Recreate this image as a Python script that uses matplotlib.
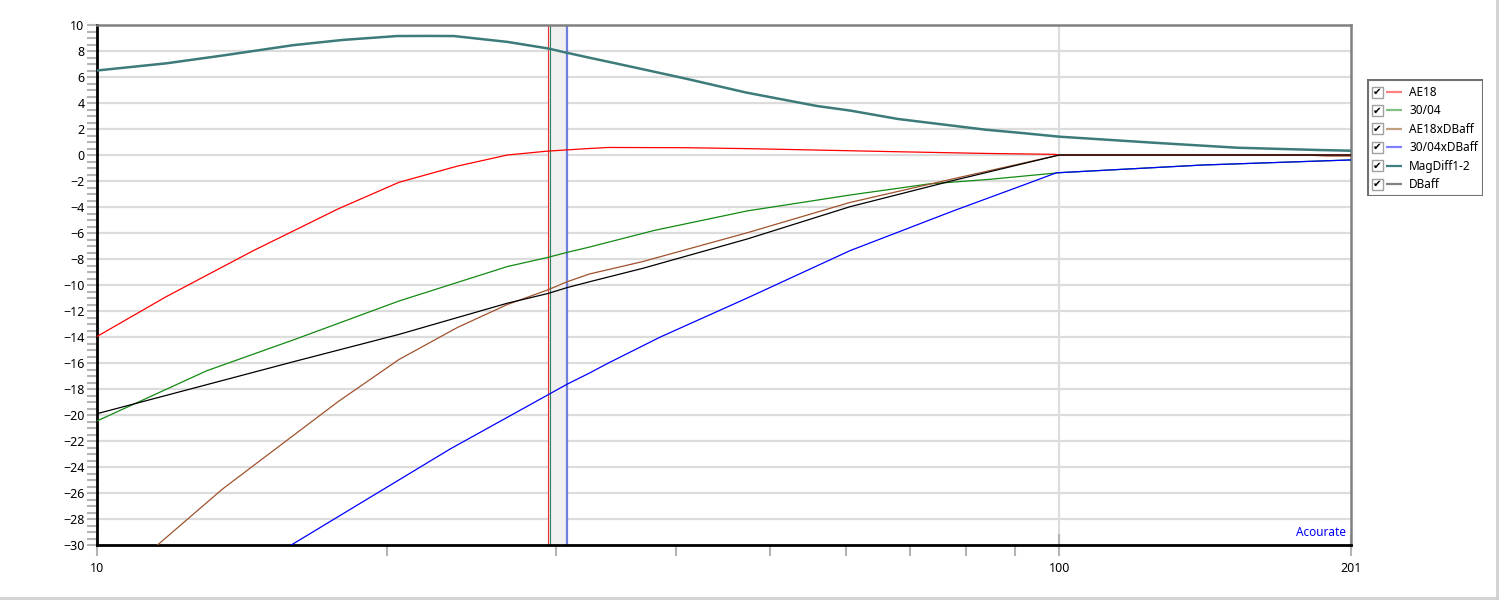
import matplotlib

matplotlib.use("Agg")

import matplotlib.pyplot as plt
import matplotlib.transforms as mtransforms
from matplotlib.lines import Line2D
from matplotlib.patches import Rectangle
from matplotlib.ticker import FixedFormatter, FixedLocator, NullFormatter

AE18_FREQ = [10, 11.8, 14.5, 17.8, 20.6, 23.7, 26.7, 29.4, 32.5, 34, 41, 47.4, 56, 68, 84, 99, 100, 201]
AE18_DB = [-13.96, -10.9, -7.4, -4.15, -2.1, -0.85, 0.0, 0.3, 0.5, 0.58, 0.56, 0.49, 0.38, 0.25, 0.12, 0.05, 0.0, 0.0]

P3004_FREQ = [10, 13, 16.1, 20.6, 26.7, 29.4, 30.8, 32.5, 37.9, 47.4, 60.6, 73.3, 84.4, 99.4, 100, 141, 201]
P3004_DB = [-20.46, -16.6, -14.15, -11.23, -8.58, -7.88, -7.49, -7.08, -5.81, -4.3, -3.08, -2.22, -1.88, -1.38, -1.36, -0.77, -0.38]

AE18XDB_FREQ = [10, 11.6, 13.5, 17.8, 20.6, 23.7, 26.7, 29.4, 30.8, 32.5, 36.9, 47.4, 60.6, 77.6, 100, 180, 190, 201]
AE18XDB_DB = [-34.1, -29.9, -25.7, -18.98, -15.73, -13.26, -11.5, -10.38, -9.75, -9.15, -8.2, -5.98, -3.65, -1.83, 0.0, 0.0, -0.08, -0.08]

P3004XDB_FREQ = [10, 16, 23.3, 29.4, 30.8, 32.5, 34, 38.5, 47.4, 60.6, 77.6, 91.5, 99.4, 100, 141, 201]
P3004XDB_DB = [-39.0, -29.9, -22.6, -18.46, -17.63, -16.77, -16.0, -14.0, -11.0, -7.36, -4.3, -2.35, -1.36, -1.36, -0.77, -0.38]

MAG_FREQ = [10, 11.8, 13.5, 16, 18, 20.5, 22, 23.5, 26.7, 29.4, 30.8, 32.5, 34, 36.9, 41, 47.3,
            56, 60.6, 68, 77.6, 84, 91.5, 100, 125, 153, 187, 201]
MAG_DB = [6.5, 7.05, 7.65, 8.45, 8.85, 9.15, 9.16, 9.15, 8.7, 8.2, 7.86, 7.48, 7.17, 6.6, 5.86, 4.8,
          3.77, 3.42, 2.77, 2.25, 1.94, 1.69, 1.41, 0.95, 0.56, 0.38, 0.33]

DBAFF_FREQ = [10, 16.1, 20.6, 23.7, 26.7, 29.4, 30.8, 32.5, 36.9, 47.4, 60.6, 77.6, 100, 201]
DBAFF_DB = [-19.9, -15.85, -13.8, -12.5, -11.4, -10.66, -10.2, -9.75, -8.72, -6.46, -3.98, -1.96, 0.0, 0.0]

CURSOR_A = 29.4
CURSOR_B = 30.8

LEGEND_LABELS = ["AE18", "30/04", "AE18xDBaff", "30/04xDBaff", "MagDiff1-2", "DBaff"]
LEGEND_COLORS = ["#ff8080", "#80c080", "#c0a080", "#8080ff", "#3f7f7f", "#808080"]

X_MAJOR = [10, 100, 201]
X_MINOR = [20, 30, 40, 50, 60, 70, 80, 90]

FONT = "Noto Sans"


def draw_legend(fig):
    lax = fig.add_axes([1367 / 1500, 1 - 196 / 600, 116 / 1500, 117 / 600])
    lax.set_xlim(0, 116)
    lax.set_ylim(117, 0)
    lax.axis("off")
    lax.add_patch(Rectangle((0.5, 0.5), 115, 116, fill=False, edgecolor="#707070", lw=1.5))

    for i, (label, color) in enumerate(zip(LEGEND_LABELS, LEGEND_COLORS)):
        yc = 13 + i * 18.4
        lax.add_patch(Rectangle((5, yc - 5.5), 11, 11, facecolor="white", edgecolor="#a0a0a0", lw=1))
        lax.text(10.5, yc, "\u2714", family=["DejaVu Sans"], fontsize=7.5,
                 ha="center", va="center", color="black")
        lax.plot([19, 35], [yc, yc], color=color, lw=1.6, solid_capstyle="butt")
        lax.text(42, yc + 0.5, label, family=FONT, fontsize=8.5, ha="left", va="center", color="black")


def plot_chart():
    fig = plt.figure(figsize=(15, 6), dpi=100)
    ax = fig.add_axes([97 / 1500, 1 - 545 / 600, 1254 / 1500, 520 / 600])

    ax.set_xscale("log")
    ax.set_xlim(10, 201)
    ax.set_ylim(-30, 10)

    # cursors
    ax.axvspan(CURSOR_A, CURSOR_B, color="#f0f0f0", lw=0, zorder=1)
    ax.axvline(CURSOR_A, color="#e83030", lw=0.8, zorder=2)
    shifted = mtransforms.offset_copy(ax.get_xaxis_transform(), fig=fig, x=2, y=0, units="dots")
    ax.plot([CURSOR_A, CURSOR_A], [0, 1], transform=shifted, color="#2e7d60", lw=0.8, zorder=2)
    ax.axvline(CURSOR_B, color="#6f7fe0", lw=1.6, zorder=2)

    ax.plot(MAG_FREQ, MAG_DB, color="#3d7b7b", lw=1.8, zorder=4)
    ax.plot(AE18_FREQ, AE18_DB, color="#ff0000", lw=0.9, zorder=4)
    ax.plot(P3004_FREQ, P3004_DB, color="#138a13", lw=0.9, zorder=4)
    ax.plot(P3004XDB_FREQ, P3004XDB_DB, color="#0000ff", lw=0.9, zorder=5)
    ax.plot(AE18XDB_FREQ, AE18XDB_DB, color="#a0522d", lw=0.9, zorder=4)
    ax.plot(DBAFF_FREQ, DBAFF_DB, color="#000000", lw=0.9, zorder=5)

    # grid
    for yv in range(-28, 10, 2):
        ax.axhline(yv, color="#dcdcdc", lw=1.6, zorder=0)
    ax.axvline(100, color="#dcdcdc", lw=1.6, zorder=0)

    ax.xaxis.set_major_locator(FixedLocator(X_MAJOR))
    ax.xaxis.set_minor_locator(FixedLocator(X_MINOR))
    ax.xaxis.set_major_formatter(FixedFormatter([str(v) for v in X_MAJOR]))
    ax.xaxis.set_minor_formatter(NullFormatter())
    ax.tick_params(axis="x", which="major", direction="inout", length=16, width=1.5,
                   color="#b4b4b4", labelsize=9, pad=4)
    ax.tick_params(axis="x", which="minor", direction="out", length=8, width=1.5, color="#b4b4b4")

    ax.yaxis.set_major_locator(FixedLocator(list(range(-30, 11, 2))))
    ax.yaxis.set_minor_locator(FixedLocator([v / 2 for v in range(-60, 21)]))
    ax.tick_params(axis="y", which="both", direction="out", length=7, width=1.5,
                   color="#b4b4b4", labelsize=9, pad=2)
    for lbl in ax.get_xticklabels() + ax.get_yticklabels():
        lbl.set_family(FONT)

    ax.spines["left"].set_color("black")
    ax.spines["left"].set_linewidth(2)
    ax.spines["bottom"].set_color("black")
    ax.spines["bottom"].set_linewidth(2)
    ax.spines["top"].set_color("#808080")
    ax.spines["top"].set_linewidth(1.8)
    ax.spines["right"].set_color("#808080")
    ax.spines["right"].set_linewidth(1.8)

    ax.text(0.996, 0.012, "Acourate", transform=ax.transAxes, ha="right", va="bottom",
            color="#0000ff", family=FONT, fontsize=8.5)

    draw_legend(fig)

    # window frame on the right and bottom edge
    fig.add_artist(Line2D([0, 0.998], [0.004, 0.004], transform=fig.transFigure, color="#d0d0d0", lw=2))
    fig.add_artist(Line2D([0.998, 0.998], [0.004, 1], transform=fig.transFigure, color="#d0d0d0", lw=2))

    fig.savefig("out.png", dpi=100)
    plt.close(fig)


def main():
    plot_chart()


if __name__ == "__main__":
    main()
